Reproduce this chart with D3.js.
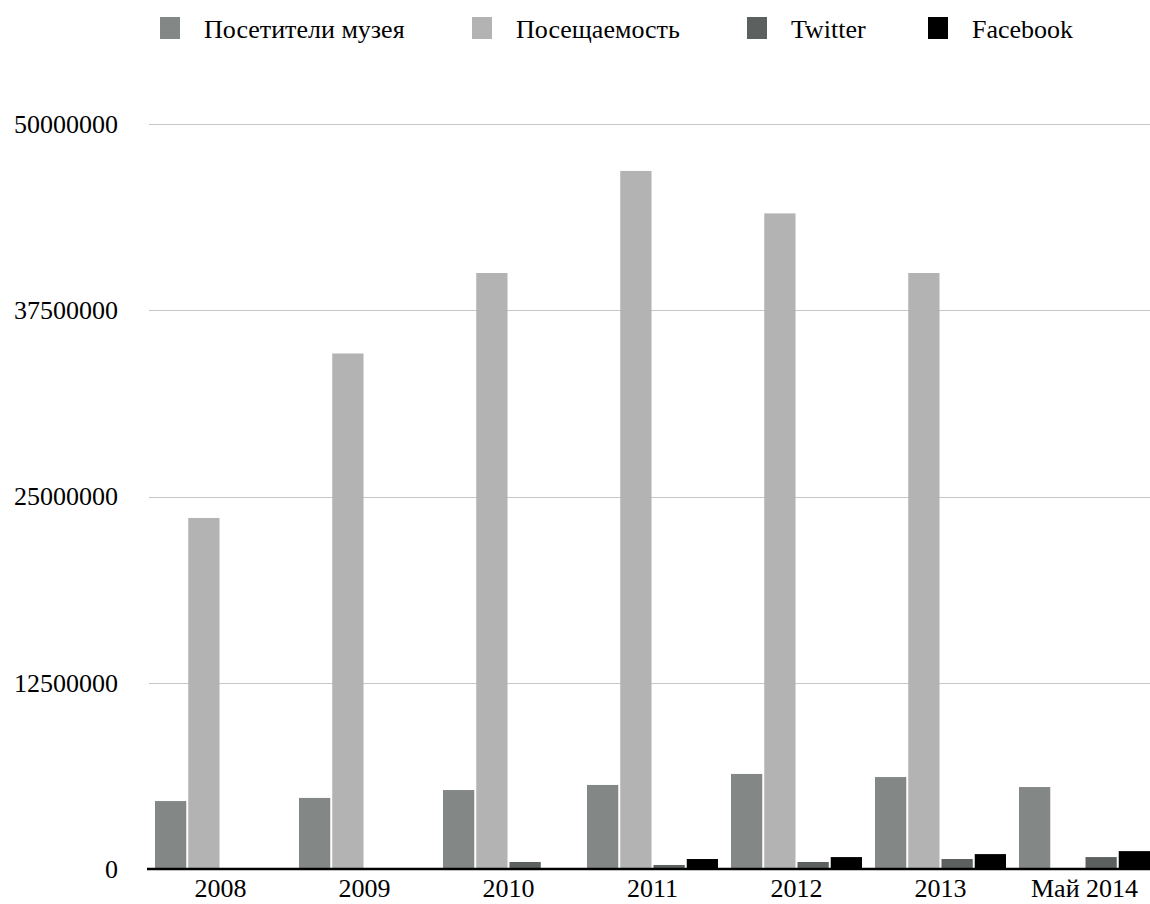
<!DOCTYPE html>
<html>
<head>
<meta charset="utf-8">
<script src="https://cdn.jsdelivr.net/npm/d3@7"></script>
<style>
  html, body { margin: 0; padding: 0; background: #fff; }
  svg { display: block; }
  svg text { font-family: 'Liberation Serif', 'Times New Roman', serif !important; fill: #000; }
</style>
</head>
<body>
<svg id="chart" width="1150" height="904"></svg>
<script>
const categories = ["2008", "2009", "2010", "2011", "2012", "2013", "Май 2014"];
const seriesNames = ["Посетители музея", "Посещаемость", "Twitter", "Facebook"];
const museumVisitors = [4560000, 4770000, 5300000, 5640000, 6380000, 6170000, 5500000];
const attendance = [23560000, 34600000, 40000000, 46850000, 44000000, 40000000, 0];
const twitter = [0, 0, 470000, 270000, 470000, 670000, 800000];
const facebook = [0, 0, 0, 670000, 800000, 1000000, 1200000];
const yTicks = [0, 12500000, 25000000, 37500000, 50000000];
const colors = ["#838886", "#b3b3b3", "#5c605e", "#000000"];

const seriesValues = [museumVisitors, attendance, twitter, facebook];

const svg = d3.select("#chart");
const fontSize = 26;
const serif = "'Liberation Serif', 'Times New Roman', serif";

const y = d3.scaleLinear().domain([0, 50000000]).range([869, 124]);
const x0 = d3.scaleBand().domain(categories).range([148.5, 1156.5])
  .paddingInner(13 / 144).paddingOuter(6.5 / 144);
const x1 = d3.scaleBand().domain(d3.range(seriesNames.length)).range([0, x0.bandwidth()]).paddingInner(0.06);

// gridlines
svg.append("g").selectAll("line").data(yTicks.filter(d => d > 0)).join("line")
  .attr("x1", 149).attr("x2", 1150)
  .attr("y1", d => Math.round(y(d)) + 0.5).attr("y2", d => Math.round(y(d)) + 0.5)
  .attr("stroke", "#c6c6c6").attr("stroke-width", 1);

// y axis labels
const yAxis = d3.axisLeft(y).tickValues(yTicks).tickSize(0).tickPadding(0).tickFormat(d3.format("d"));
const yg = svg.append("g").attr("transform", "translate(118,0)").call(yAxis)
  .attr("font-family", serif).attr("font-size", fontSize);
yg.select(".domain").remove();
yg.selectAll("text").attr("font-size", fontSize).attr("font-family", serif).attr("fill", "#000");

// bars
const groups = svg.append("g").selectAll("g").data(categories).join("g")
  .attr("transform", d => `translate(${x0(d)},0)`);
groups.selectAll("rect").data((c, i) => seriesValues.map((s, k) => ({k, v: s[i]})))
  .join("rect")
  .attr("x", d => x1(d.k))
  .attr("width", x1.bandwidth())
  .attr("y", d => y(d.v))
  .attr("height", d => y(0) - y(d.v))
  .attr("fill", d => colors[d.k]);

// baseline
svg.append("line").attr("x1", 147).attr("x2", 1150).attr("y1", 869).attr("y2", 869)
  .attr("stroke", "#000").attr("stroke-width", 2.5);

// x axis labels
const xAxis = d3.axisBottom(x0).tickSize(0).tickPadding(0);
const xg = svg.append("g").attr("transform", "translate(0,897)").call(xAxis)
  .attr("font-family", serif).attr("font-size", fontSize);
xg.select(".domain").remove();
xg.selectAll("text").attr("font-size", fontSize).attr("font-family", serif)
  .attr("fill", "#000").attr("dy", "0");

// legend
const legendX = [160, 472, 747, 928];
const lg = svg.append("g").selectAll("g").data(seriesNames).join("g")
  .attr("transform", (d, i) => `translate(${legendX[i]},0)`);
lg.append("rect").attr("x", 0).attr("y", 17).attr("width", 20).attr("height", 22)
  .attr("fill", (d, i) => colors[i]);
lg.append("text").attr("x", 44).attr("y", 38).attr("font-size", fontSize)
  .attr("font-family", serif).text(d => d);
</script>
</body>
</html>
